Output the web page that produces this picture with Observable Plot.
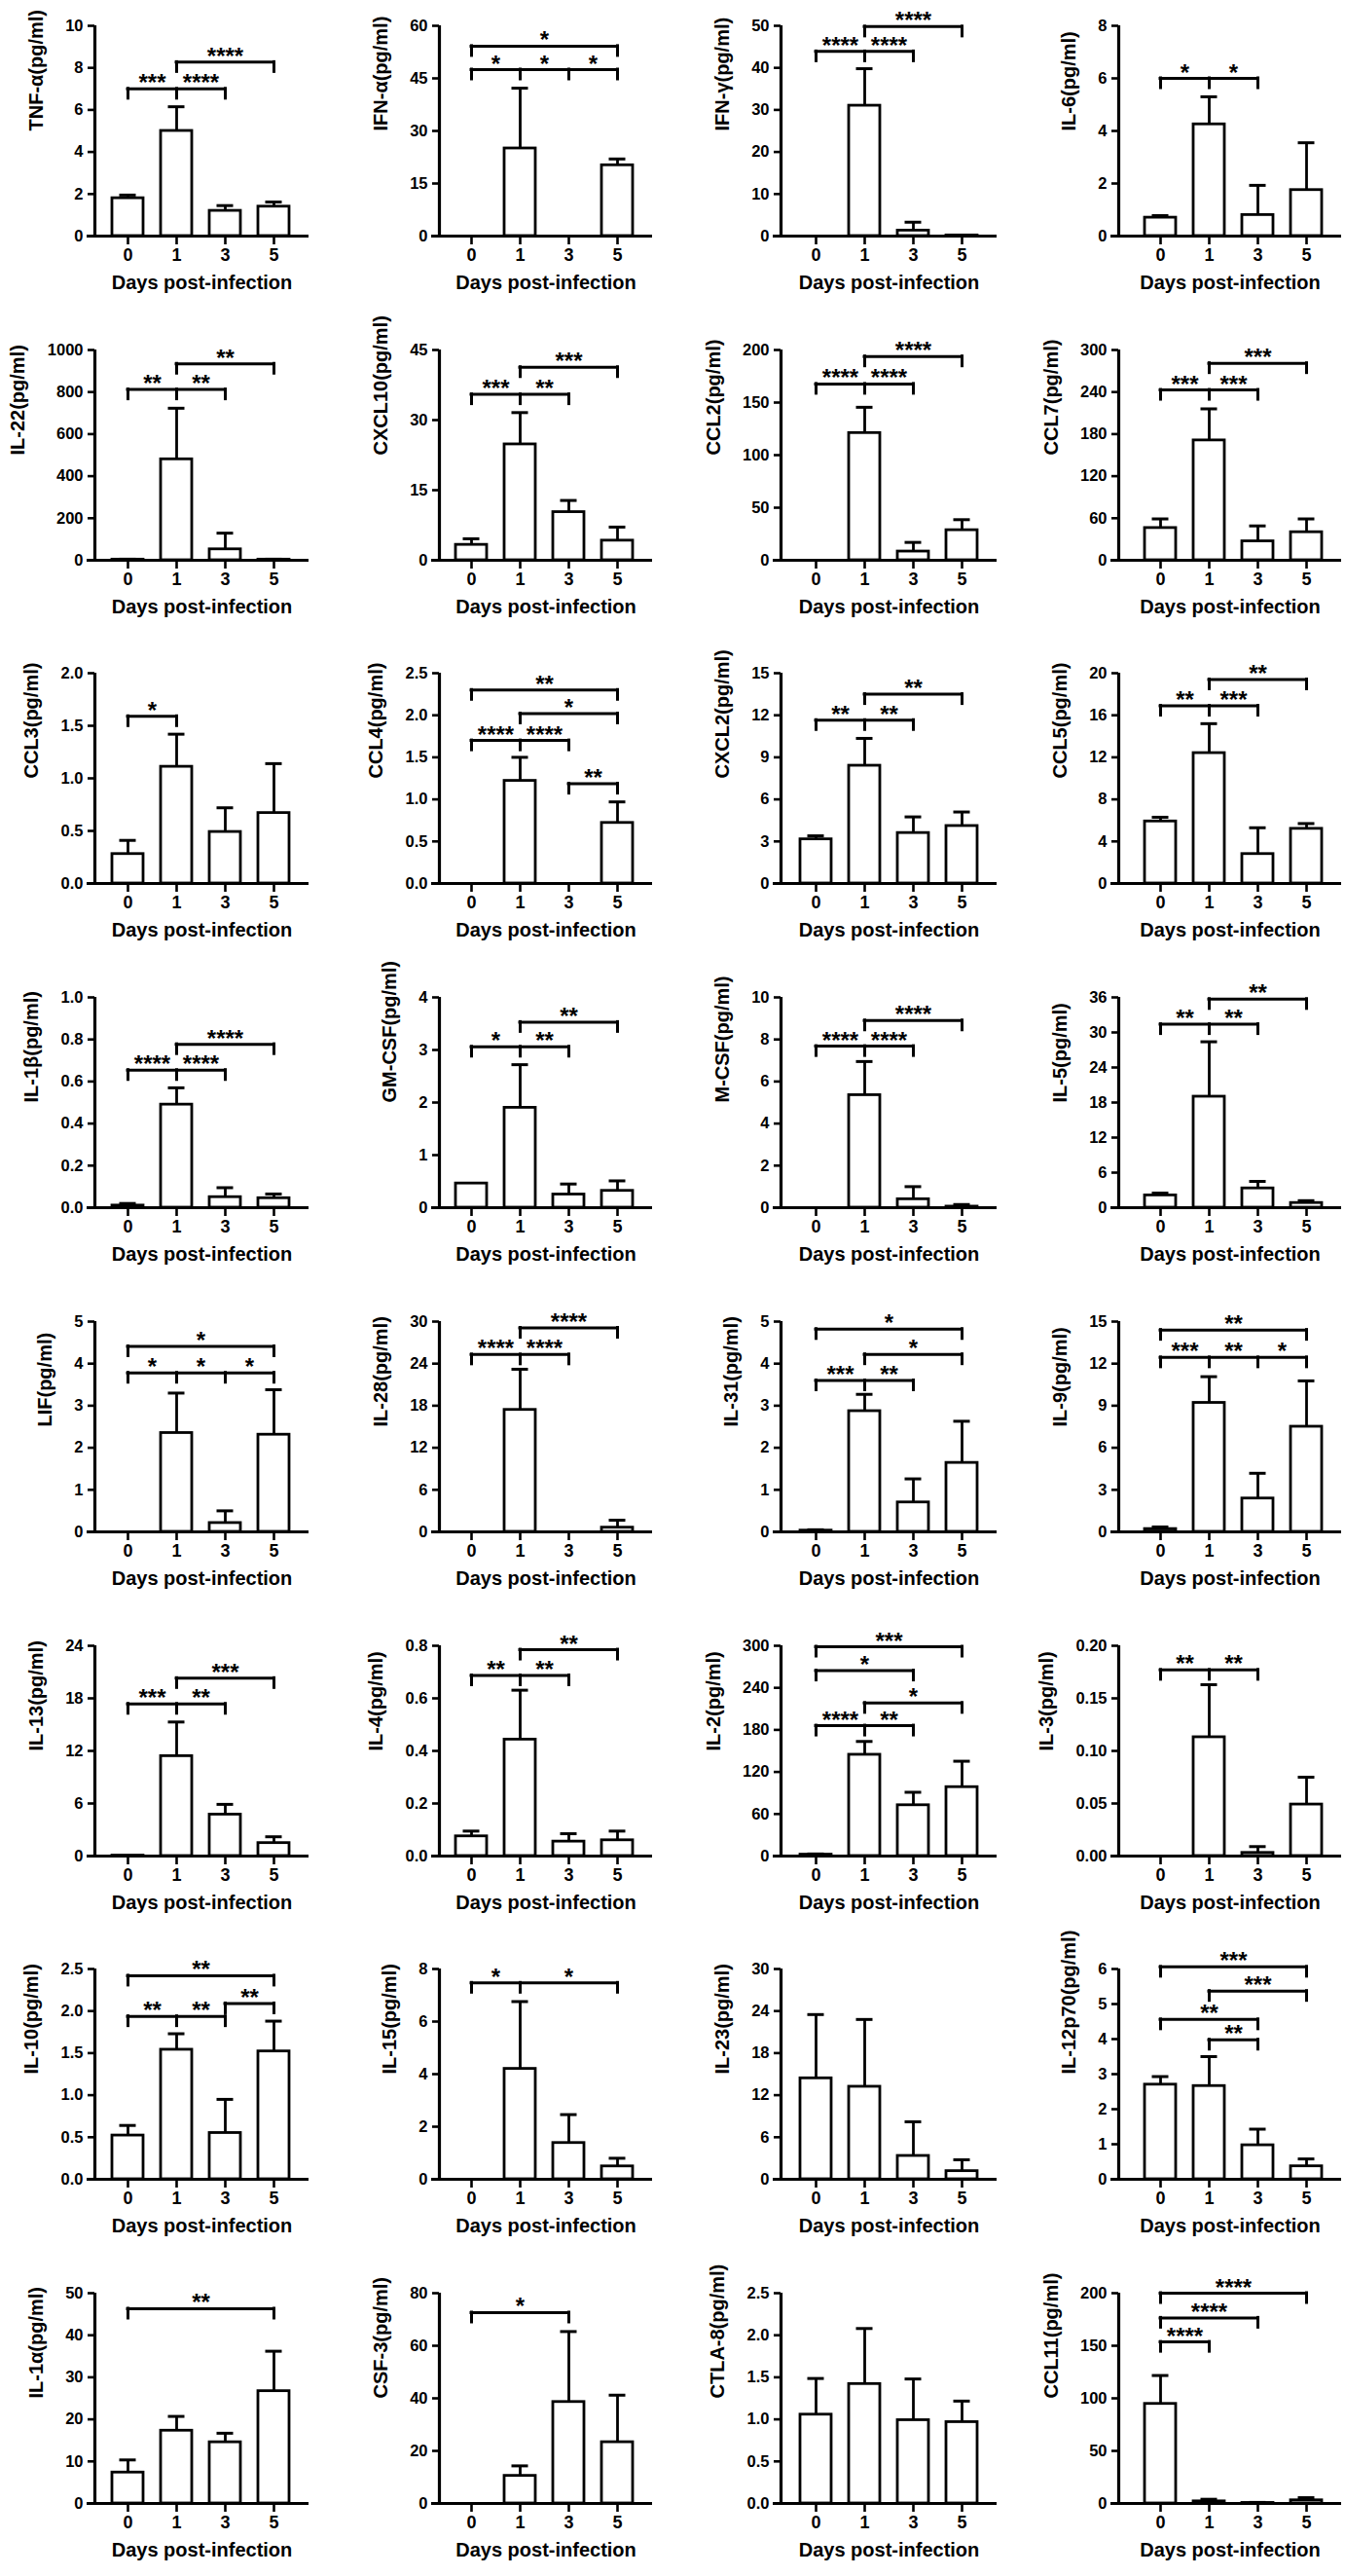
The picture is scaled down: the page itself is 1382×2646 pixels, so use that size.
<!DOCTYPE html>
<html><head><meta charset="utf-8">
<script src="https://cdn.jsdelivr.net/npm/d3@7"></script>
<script src="https://cdn.jsdelivr.net/npm/@observablehq/plot@0.6"></script>
<style>
html,body{margin:0;padding:0;background:#fff;}
#chart{position:relative;width:1382px;height:2646px;background:#fff;overflow:hidden;}
#chart svg{position:absolute;overflow:visible;background:transparent;}
</style></head><body><div id="chart"></div>
<script>
// ---------- data ----------
const days = ["0", "1", "3", "5"];
const xTitle = "Days post-infection";
const cytokines = [
  "TNF-α", "IFN-α", "IFN-γ", "IL-6",
  "IL-22", "CXCL10", "CCL2", "CCL7",
  "CCL3", "CCL4", "CXCL2", "CCL5",
  "IL-1β", "GM-CSF", "M-CSF", "IL-5",
  "LIF", "IL-28", "IL-31", "IL-9",
  "IL-13", "IL-4", "IL-2", "IL-3",
  "IL-10", "IL-15", "IL-23", "IL-12p70",
  "IL-1α", "CSF-3", "CTLA-8", "CCL11"
];
const unit = "(pg/ml)";
const yMax = [10, 60, 50, 8, 1000, 45, 200, 300, 2.0, 2.5, 15, 20, 1.0, 4, 10, 36,
              5, 30, 5, 15, 24, 0.8, 300, 0.20, 2.5, 8, 30, 6, 50, 80, 2.5, 200];
const yStep = [2, 15, 10, 2, 200, 15, 50, 60, 0.5, 0.5, 3, 4, 0.2, 1, 2, 6,
               1, 6, 1, 3, 6, 0.2, 60, 0.05, 0.5, 2, 6, 1, 10, 20, 0.5, 50];
const yDecimals = [0, 0, 0, 0, 0, 0, 0, 0, 1, 1, 0, 0, 1, 0, 0, 0,
                   0, 0, 0, 0, 0, 1, 0, 2, 1, 0, 0, 0, 0, 0, 1, 0];
// mean per day (0, 1, 3, 5)
const means = [
  [1.8, 5.0, 1.2, 1.4], [0, 25, 0, 20.2], [0, 31, 1.3, 0.15], [0.7, 4.25, 0.8, 1.75],
  [3, 480, 52, 3], [3.3, 24.8, 10.3, 4.2], [0, 121, 8.3, 28.6], [46, 171, 27, 40],
  [0.28, 1.11, 0.49, 0.67], [0, 1.22, 0, 0.72], [3.15, 8.4, 3.6, 4.1], [5.9, 12.4, 2.8, 5.2],
  [0.01, 0.49, 0.05, 0.045], [0.46, 1.9, 0.25, 0.32], [0, 5.35, 0.4, 0.05], [2.1, 19, 3.3, 0.8],
  [0, 2.35, 0.21, 2.31], [0, 17.4, 0, 0.6], [0.03, 2.87, 0.7, 1.64], [0.2, 9.2, 2.38, 7.5],
  [0.05, 11.4, 4.73, 1.48], [0.075, 0.443, 0.055, 0.06], [2, 144.5, 72.5, 98.3], [0, 0.113, 0.003, 0.049],
  [0.52, 1.54, 0.55, 1.52], [0, 4.2, 1.38, 0.49], [14.4, 13.2, 3.33, 1.16], [2.7, 2.66, 0.97, 0.37],
  [7.35, 17.3, 14.55, 26.7], [0, 10.5, 38.6, 23.3], [1.056, 1.42, 0.99, 0.967], [94.7, 2, 0.5, 3]
];
// upper error (SD) per day
const errors = [
  [0.15, 1.15, 0.25, 0.22], [0, 17.2, 0, 1.8], [0, 8.8, 2.0, 0], [0.08, 1.05, 1.13, 1.8],
  [2, 243, 77, 2], [1.3, 6.8, 2.5, 2.9], [0, 24.5, 8.7, 10], [13, 45, 22, 19],
  [0.13, 0.31, 0.23, 0.47], [0, 0.28, 0, 0.25], [0.25, 1.95, 1.15, 1.0], [0.4, 2.8, 2.5, 0.5],
  [0.01, 0.08, 0.045, 0.02], [0, 0.82, 0.2, 0.19], [0, 1.6, 0.6, 0.1], [0.4, 9.4, 1.2, 0.4],
  [0, 0.95, 0.29, 1.07], [0, 5.8, 0, 1.07], [0.02, 0.4, 0.56, 0.99], [0.15, 1.87, 1.8, 3.27],
  [0, 3.9, 1.17, 0.72], [0.02, 0.188, 0.03, 0.035], [1, 19, 18.5, 37], [0, 0.05, 0.006, 0.026],
  [0.12, 0.19, 0.4, 0.36], [0, 2.56, 1.08, 0.31], [9.1, 9.6, 4.87, 1.62], [0.23, 0.84, 0.46, 0.21],
  [3.0, 3.4, 2.15, 9.5], [0, 3.8, 26.8, 17.9], [0.43, 0.66, 0.49, 0.25], [27, 2, 0.5, 2.5]
];
// significance brackets: groups joined (by day index), level, star labels at positions
const brackets = [
  [{at: [0, 1, 2], y: 7.0, labels: [[0.5, "***"], [1.5, "****"]]}, {at: [1, 3], y: 8.27, labels: [[2, "****"]]}],
  [{at: [0, 1, 2, 3], y: 47.5, labels: [[0.5, "*"], [1.5, "*"], [2.5, "*"]]}, {at: [0, 3], y: 54.2, labels: [[1.5, "*"]]}],
  [{at: [0, 1, 2], y: 43.9, labels: [[0.5, "****"], [1.5, "****"]]}, {at: [1, 3], y: 49.8, labels: [[2, "****"]]}],
  [{at: [0, 1, 2], y: 6.0, labels: [[0.5, "*"], [1.5, "*"]]}],
  [{at: [0, 1, 2], y: 812, labels: [[0.5, "**"], [1.5, "**"]]}, {at: [1, 3], y: 934, labels: [[2, "**"]]}],
  [{at: [0, 1, 2], y: 35.5, labels: [[0.5, "***"], [1.5, "**"]]}, {at: [1, 3], y: 41.3, labels: [[2, "***"]]}],
  [{at: [0, 1, 2], y: 167.7, labels: [[0.5, "****"], [1.5, "****"]]}, {at: [1, 3], y: 193.8, labels: [[2, "****"]]}],
  [{at: [0, 1, 2], y: 243, labels: [[0.5, "***"], [1.5, "***"]]}, {at: [1, 3], y: 281, labels: [[2, "***"]]}],
  [{at: [0, 1], y: 1.59, labels: [[0.5, "*"]]}],
  [{at: [2, 3], y: 1.185, labels: [[2.5, "**"]]}, {at: [0, 1, 2], y: 1.70, labels: [[0.5, "****"], [1.5, "****"]]},
   {at: [1, 3], y: 2.02, labels: [[2, "*"]]}, {at: [0, 3], y: 2.30, labels: [[1.5, "**"]]}],
  [{at: [0, 1, 2], y: 11.65, labels: [[0.5, "**"], [1.5, "**"]]}, {at: [1, 3], y: 13.5, labels: [[2, "**"]]}],
  [{at: [0, 1, 2], y: 16.9, labels: [[0.5, "**"], [1.5, "***"]]}, {at: [1, 3], y: 19.4, labels: [[2, "**"]]}],
  [{at: [0, 1, 2], y: 0.654, labels: [[0.5, "****"], [1.5, "****"]]}, {at: [1, 3], y: 0.777, labels: [[2, "****"]]}],
  [{at: [0, 1, 2], y: 3.06, labels: [[0.5, "*"], [1.5, "**"]]}, {at: [1, 3], y: 3.53, labels: [[2, "**"]]}],
  [{at: [0, 1, 2], y: 7.68, labels: [[0.5, "****"], [1.5, "****"]]}, {at: [1, 3], y: 8.9, labels: [[2, "****"]]}],
  [{at: [0, 1, 2], y: 31.4, labels: [[0.5, "**"], [1.5, "**"]]}, {at: [1, 3], y: 35.7, labels: [[2, "**"]]}],
  [{at: [0, 1, 2, 3], y: 3.78, labels: [[0.5, "*"], [1.5, "*"], [2.5, "*"]]}, {at: [0, 3], y: 4.41, labels: [[1.5, "*"]]}],
  [{at: [0, 1, 2], y: 25.3, labels: [[0.5, "****"], [1.5, "****"]]}, {at: [1, 3], y: 29.1, labels: [[2, "****"]]}],
  [{at: [0, 1, 2], y: 3.6, labels: [[0.5, "***"], [1.5, "**"]]}, {at: [1, 3], y: 4.22, labels: [[2, "*"]]},
   {at: [0, 3], y: 4.82, labels: [[1.5, "*"]]}],
  [{at: [0, 1, 2, 3], y: 12.44, labels: [[0.5, "***"], [1.5, "**"], [2.5, "*"]]}, {at: [0, 3], y: 14.4, labels: [[1.5, "**"]]}],
  [{at: [0, 1, 2], y: 17.36, labels: [[0.5, "***"], [1.5, "**"]]}, {at: [1, 3], y: 20.3, labels: [[2, "***"]]}],
  [{at: [0, 1, 2], y: 0.687, labels: [[0.5, "**"], [1.5, "**"]]}, {at: [1, 3], y: 0.785, labels: [[2, "**"]]}],
  [{at: [0, 1, 2], y: 186, labels: [[0.5, "****"], [1.5, "**"]]}, {at: [1, 3], y: 218.3, labels: [[2, "*"]]},
   {at: [0, 2], y: 264.5, labels: [[1, "*"]]}, {at: [0, 3], y: 298.6, labels: [[1.5, "***"]]}],
  [{at: [0, 1, 2], y: 0.177, labels: [[0.5, "**"], [1.5, "**"]]}],
  [{at: [0, 1, 2], y: 1.937, labels: [[0.5, "**"], [1.5, "**"]]}, {at: [2, 3], y: 2.09, labels: [[2.5, "**"]]},
   {at: [0, 3], y: 2.42, labels: [[1.5, "**"]]}],
  [{at: [0, 1, 3], y: 7.47, labels: [[0.5, "*"], [2, "*"]]}],
  [],
  [{at: [1, 2], y: 3.98, labels: [[1.5, "**"]]}, {at: [0, 2], y: 4.56, labels: [[1, "**"]]},
   {at: [1, 3], y: 5.37, labels: [[2, "***"]]}, {at: [0, 3], y: 6.06, labels: [[1.5, "***"]]}],
  [{at: [0, 3], y: 46.3, labels: [[1.5, "**"]]}],
  [{at: [0, 2], y: 72.6, labels: [[1, "*"]]}],
  [],
  [{at: [0, 1], y: 153.6, labels: [[0.5, "****"]]}, {at: [0, 2], y: 176.5, labels: [[1, "****"]]},
   {at: [0, 3], y: 200, labels: [[1.5, "****"]]}]
];

// ---------- layout ----------
const FONT = "'Liberation Sans', Arial, Helvetica, sans-serif";
const colLeft = [0, 345, 691, 1036];
const colAxis = [97, 451, 802, 1149];
const colGap = [34, 33, 36, 43];
const colRight = [8, 8, 8, 4];
const rowPitch = 332.7;
const mTop = 26, plotH = 216, panelH = 332;
const step = 50, tail = 36;

function tickWidth(s) {
  let w = 0;
  for (const ch of s) w += ch === "." ? 0.278 : 0.556;
  return w * 17;
}

const chart = document.getElementById("chart");

cytokines.forEach((name, k) => {
  const r = Math.floor(k / 4), c = k % 4;
  const ml = colAxis[c] - colLeft[c];
  const gap = colGap[c];
  const plotW = gap + 3 * step + tail;
  const width = ml + plotW + colRight[c];
  const xMin = -gap / step, xMaxD = 3 + tail / step;
  const ym = yMax[k];
  const nT = Math.round(ym / yStep[k]);
  const ticks = d3.range(0, nT + 1).map(j => +(j * yStep[k]).toFixed(4));
  const fmt = v => v.toFixed(yDecimals[k]);
  const labW = d3.max(ticks, t => tickWidth(fmt(t)));
  const labelOffset = 41 + labW;
  const per = ym / plotH; // data units per pixel

  const rows = days.map((d, i) => ({i, mean: means[k][i], err: errors[k][i]}));
  const errRows = rows.filter(d => d.err > 0);
  const brs = brackets[k];
  const drops = brs.flatMap(b => b.at.map(a => ({x: a, y: b.y})));
  const labs = brs.flatMap(b => b.labels.map(([p, t]) => ({x: p, y: b.y, t})));

  const svg = Plot.plot({
    width, height: panelH,
    marginLeft: ml, marginRight: colRight[c], marginTop: mTop, marginBottom: panelH - mTop - plotH,
    style: {fontFamily: FONT, fontWeight: "bold", background: "transparent", overflow: "visible"},
    x: {type: "linear", domain: [xMin, xMaxD], axis: null},
    y: {domain: [0, ym], axis: null},
    marks: [
      Plot.rect(rows, {x1: d => d.i - 0.32, x2: d => d.i + 0.32, y1: 0, y2: "mean",
        fill: "white", stroke: "black", strokeWidth: 2.8}),
      Plot.ruleX(errRows, {x: "i", y1: "mean", y2: d => d.mean + d.err, stroke: "black", strokeWidth: 2.8}),
      Plot.ruleY(errRows, {y: d => d.mean + d.err, x1: d => d.i - 0.17, x2: d => d.i + 0.17,
        stroke: "black", strokeWidth: 3}),
      Plot.ruleY([0], {x1: xMin - 8 / step, x2: xMaxD, stroke: "black", strokeWidth: 3.2}),
      Plot.ruleX([xMin], {y1: 0, y2: ym, stroke: "black", strokeWidth: 3.2}),
      Plot.axisY({ticks, tickFormat: fmt, tickSize: 7, tickPadding: 5, strokeWidth: 2.6,
        fontSize: 16.5, fontWeight: "bold", label: null}),
      Plot.axisX({ticks: [0, 1, 2, 3], tickFormat: i => days[i], tickSize: 9, tickPadding: 4,
        strokeWidth: 2.6, fontSize: 18, fontWeight: "bold", label: null}),
      Plot.text([xTitle], {frameAnchor: "bottom", dy: 54, fontSize: 20, fontWeight: "bold", fill: "black"}),
      Plot.text([name + unit], {frameAnchor: "left", rotate: -90, dx: -labelOffset,
        fontSize: 20, fontWeight: "bold", fill: "black"}),
      Plot.ruleY(brs, {y: "y", x1: b => d3.min(b.at), x2: b => d3.max(b.at),
        stroke: "black", strokeWidth: 3, strokeLinecap: "square"}),
      Plot.ruleX(drops, {x: "x", y1: "y", y2: d => d.y - 10 * per,
        stroke: "black", strokeWidth: 3, strokeLinecap: "square"}),
      Plot.text(labs, {x: "x", y: "y", text: "t", fontSize: 24, fontWeight: "bold",
        lineAnchor: "bottom", dy: 2, fill: "black"})
    ]
  });
  svg.style.left = colLeft[c] + "px";
  svg.style.top = Math.round(r * rowPitch) + "px";
  chart.appendChild(svg);
});
</script>
</body></html>
